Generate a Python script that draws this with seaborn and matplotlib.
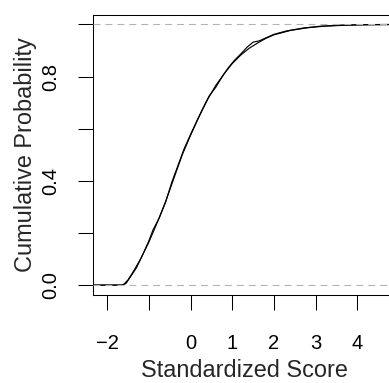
import matplotlib
matplotlib.use("Agg")
import matplotlib.pyplot as plt
import seaborn as sns
import pandas as pd

# Theoretical CDF
theory_z = [-2.6, -1.62, -1.5, -1.4, -1.3, -1.2, -1.0, -0.8, -0.6, -0.4, -0.2, 0.0,
            0.2, 0.4, 0.6, 0.8, 1.0, 1.2, 1.4, 1.6, 1.8, 2.0, 2.4, 2.8, 3.2, 3.6,
            4.0, 4.5, 5.5, 6.0]
theory_p = [0.0, 0.0, 0.02, 0.045, 0.072, 0.10, 0.165, 0.24, 0.32, 0.41, 0.50, 0.575,
            0.645, 0.71, 0.765, 0.81, 0.85, 0.882, 0.908, 0.928, 0.946, 0.96, 0.977,
            0.987, 0.993, 0.996, 0.998, 0.999, 1.0, 1.0]

emp_z = [-2.6, -1.65, -1.55, -1.45, -1.3, -1.15, -1.0, -0.9, -0.75, -0.6, -0.45, -0.3,
         -0.15, 0.0, 0.15, 0.3, 0.45, 0.6, 0.75, 0.9, 1.05, 1.2, 1.35, 1.5, 1.65,
         1.8, 2.0, 2.3, 2.7, 3.1, 3.6, 4.2, 5.0, 6.0]
emp_p = [0.0, 0.0, 0.006, 0.03, 0.066, 0.116, 0.17, 0.212, 0.258, 0.318, 0.395, 0.46,
         0.525, 0.578, 0.63, 0.68, 0.727, 0.758, 0.797, 0.833, 0.862, 0.886, 0.912,
         0.932, 0.937, 0.948, 0.962, 0.975, 0.986, 0.993, 0.997, 0.999, 1.0, 1.0]

x_ticks = [-2, -1, 0, 1, 2, 3, 4]
x_tick_labels = ["\u22122", "", "0", "1", "2", "3", "4"]
y_ticks = [0.0, 0.2, 0.4, 0.6, 0.8, 1.0]
y_tick_labels = ["0.0", "", "0.4", "", "0.8", ""]
ref_levels = [0.0, 1.0]

sns.set_style("ticks")
plt.rcParams["font.family"] = ["Liberation Sans", "DejaVu Sans"]
plt.rcParams["lines.scale_dashes"] = False

W, H = 389, 383
fig = plt.figure(figsize=(W / 100, H / 100), dpi=100)
ax = fig.add_axes([93 / W, 88 / H, (395 - 93) / W, 280 / H])

theory = pd.DataFrame({"z": theory_z, "p": theory_p})
emp = pd.DataFrame({"z": emp_z, "p": emp_p})

sns.lineplot(data=theory, x="z", y="p", ax=ax, color="black", lw=0.85,
             sort=False, estimator=None)
sns.lineplot(data=emp, x="z", y="p", ax=ax, color="black", lw=0.85,
             sort=False, estimator=None)
for lv in ref_levels:
    ax.axhline(lv, color="#B3B3B3", lw=0.8, ls=(0, (5, 3.6)), zorder=3)

ax.set_xlim(-2.34, 4.90)
ax.set_ylim(-0.038, 1.036)

ax.set_xticks(x_ticks)
ax.set_xticklabels(x_tick_labels)
ax.set_yticks(y_ticks)
ax.set_yticklabels(y_tick_labels, rotation=90, va="center")

for s in ax.spines.values():
    s.set_visible(True)
    s.set_linewidth(0.75)
    s.set_color("black")

ax.tick_params(axis="both", direction="out", length=10.8, width=0.75,
               color="black", labelsize=14.5, labelcolor="black")
ax.tick_params(axis="x", pad=17.5)
ax.tick_params(axis="y", pad=13)

ax.set_xlabel("Standardized Score", fontsize=16.9, labelpad=4)
ax.set_ylabel("Cumulative Probability", fontsize=16.9, labelpad=3)

fig.savefig("out.png", dpi=100)
